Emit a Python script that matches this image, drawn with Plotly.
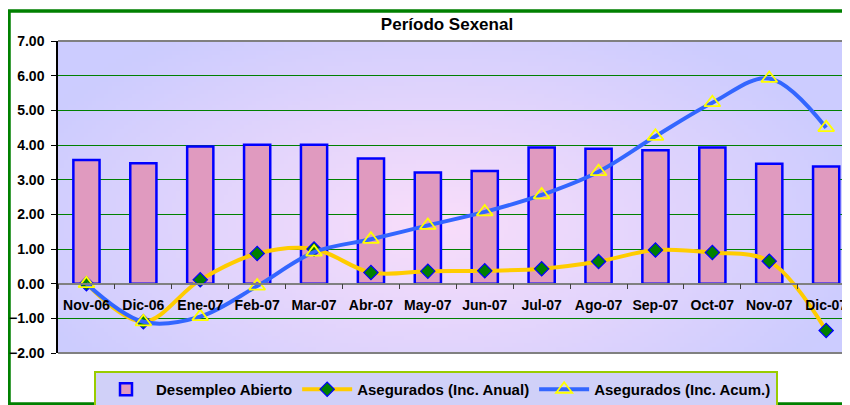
import base64
import struct
import zlib

import numpy as np
import plotly.graph_objects as go

categories = ["Nov-06", "Dic-06", "Ene-07", "Feb-07", "Mar-07", "Abr-07", "May-07",
              "Jun-07", "Jul-07", "Ago-07", "Sep-07", "Oct-07", "Nov-07", "Dic-07"]
desempleo_abierto = [3.57, 3.47, 3.96, 4.01, 4.01, 3.61, 3.21, 3.25, 3.93, 3.89, 3.85, 3.93, 3.46, 3.38]
asegurados_anual = [0.00, -1.10, 0.11, 0.87, 1.00, 0.32, 0.36, 0.37, 0.43, 0.64, 0.97, 0.90, 0.65, -1.35]
asegurados_acum = [0.00, -1.10, -0.95, -0.07, 0.91, 1.28, 1.68, 2.07, 2.56, 3.23, 4.25, 5.22, 5.92, 4.50]
y_ticks = [-2, -1, 0, 1, 2, 3, 4, 5, 6, 7]
y_range = [-2, 7]

FONT = "Liberation Sans, Arial, sans-serif"


def png_uri(img):
    h, w, _ = img.shape
    raw = b"".join(b"\x00" + img[r].astype(np.uint8).tobytes() for r in range(h))

    def chunk(tag, data):
        c = tag + data
        return struct.pack(">I", len(data)) + c + struct.pack(">I", zlib.crc32(c) & 0xFFFFFFFF)

    png = (b"\x89PNG\r\n\x1a\n" + chunk(b"IHDR", struct.pack(">IIBBBBB", w, h, 8, 2, 0, 0, 0))
           + chunk(b"IDAT", zlib.compress(raw, 9)) + chunk(b"IEND", b""))
    return "data:image/png;base64," + base64.b64encode(png).decode()


# plot-area radial gradient (lavender edges, pale pink centre)
W, H = 200, 80
yy, xx = np.mgrid[0:H, 0:W]
d = np.sqrt(((xx / W - 0.47) / 0.55) ** 2 + ((yy / H - 0.58) / 0.75) ** 2)
t = np.clip(d, 0, 1)[..., None]
centre = np.array([250, 222, 250])
edge = np.array([204, 204, 255])
bg = centre * (1 - t) + edge * t
bg_uri = png_uri(bg)

fig = go.Figure()
fig.add_trace(go.Bar(
    x=categories, y=desempleo_abierto, name="Desempleo Abierto",
    width=0.46,
    marker=dict(color="#e09abf", line=dict(color="#0000ff", width=2.5)),
))
fig.add_trace(go.Scatter(
    x=categories, y=asegurados_anual, name="Asegurados (Inc. Anual)",
    mode="lines+markers", line=dict(color="#ffcc00", width=4, shape="spline"),
    marker=dict(symbol="diamond", size=11, color="#008000", line=dict(color="#0000ff", width=1.2)),
))
fig.add_trace(go.Scatter(
    x=categories, y=asegurados_acum, name="Asegurados (Inc. Acum.)",
    mode="lines+markers", line=dict(color="#3366ff", width=4, shape="spline"),
    marker=dict(symbol="triangle-up-open", size=14, color="#ffff00", line=dict(color="#ffff00", width=1.8)),
))

zero_pos = (0 - y_range[0]) / (y_range[1] - y_range[0])

# page places the figure 8px in from the window edge; work in window pixels
OFF = 8
FW, FH = 850, 405
PL, PT = 58 - OFF, 41 - OFF
PB = FH - (353 - OFF)
PR = 0
pw = FW - PL - PR
ph = FH - PT - PB
cat_px = 56.9


def px_x(sx):
    return (sx - OFF - PL) / pw


def px_y(sy):
    return (PT + ph - (sy - OFF)) / ph


fig.update_layout(
    width=FW, height=FH,
    margin=dict(l=PL, r=PR, t=PT, b=PB, autoexpand=False),
    paper_bgcolor="white",
    plot_bgcolor="rgba(0,0,0,0)",
    font=dict(family=FONT, size=14, color="black", weight="bold"),
    title=dict(text="Período Sexenal", x=(447 - OFF) / FW, xanchor="center",
               y=1 - (24 - OFF) / FH, yanchor="middle",
               font=dict(family=FONT, size=17, color="black", weight="bold")),
    showlegend=True,
    legend=dict(orientation="h", x=px_x(436), xanchor="center", y=px_y(371), yanchor="top",
                bgcolor="#d0d0f8", bordercolor="#99cc00", borderwidth=2,
                font=dict(family=FONT, size=15, color="black", weight="bold"),
                itemwidth=50, traceorder="normal"),
    xaxis=dict(type="category", anchor="free", position=zero_pos, showline=True, linecolor="#808080",
               linewidth=1.5, ticks="outside", ticklen=5, tickcolor="#404040", tickson="boundaries",
               showgrid=False, zeroline=False, tickangle=0, automargin=False, ticklabelstandoff=9,
               tickfont=dict(size=14, weight="bold"),
               range=[-0.5, -0.5 + pw / cat_px]),
    yaxis=dict(range=y_range, tickvals=y_ticks, tickformat=".2f", showgrid=True, gridcolor="#008000",
               gridwidth=1, zeroline=False, showline=True, linecolor="black", linewidth=1.5,
               ticks="outside", ticklen=5, tickcolor="black", ticklabelstandoff=4, automargin=False,
               tickfont=dict(size=14, weight="bold")),
    images=[dict(source=bg_uri, xref="paper", yref="paper", x=0, y=1, sizex=1, sizey=1,
                 sizing="stretch", layer="below")],
    shapes=[
        dict(type="line", xref="paper", yref="paper", x0=0, x1=1, y0=1, y1=1,
             line=dict(color="#808080", width=2)),
        dict(type="line", xref="paper", yref="paper", x0=0, x1=1, y0=0, y1=0,
             line=dict(color="#808080", width=2)),
        dict(type="rect", xref="paper", yref="paper", x0=px_x(9), x1=px_x(880),
             y0=px_y(404), y1=px_y(11),
             line=dict(color="#008000", width=3.5), layer="below"),
    ],
)

fig.write_html("out.html")
